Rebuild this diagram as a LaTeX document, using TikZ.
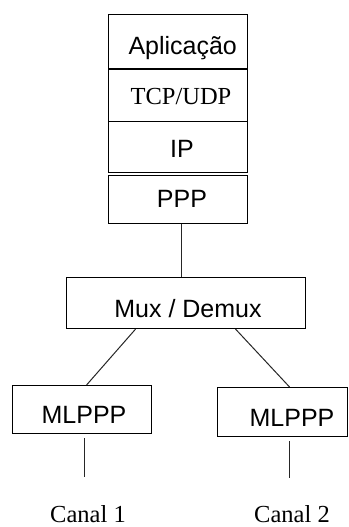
\documentclass[tikz,border=0pt]{standalone}
\usepackage{fontspec}
\setmainfont{Liberation Serif}
\newfontfamily\arialfont{Liberation Sans}
\begin{document}
\begin{tikzpicture}[x=1pt,y=-1pt,
  box/.style={draw=black,line width=1.1pt,rectangle,inner sep=0pt,anchor=north west},
  sanslabel/.style={font=\arialfont\fontsize{25}{30}\selectfont,anchor=base,inner sep=0pt},
  seriflabel/.style={font=\fontsize{24.5}{30}\selectfont,anchor=base,inner sep=0pt},
  link/.style={line width=1pt,draw=black!85}]
\useasboundingbox (0,0) rectangle (348,527);

% protocol stack
\node[box,minimum width=139pt,minimum height=54pt] (app) at (108,14) {};
\node[box,minimum width=139pt,minimum height=53pt] (tcp) at (108,68) {};
\node[box,minimum width=139pt,minimum height=51pt] (ip)  at (108,121) {};
\node[box,minimum width=139pt,minimum height=48pt] (ppp) at (108,175) {};
\draw[line width=2pt] (app.south west) -- (app.south east);

\node[sanslabel]  (appt) at (182.7,55) {Aplicação};
\node[seriflabel] (tcpt) at (181,104) {TCP/UDP};
\node[sanslabel]  (ipt)  at (182,157) {IP};
\node[sanslabel]  (pppt) at (182,207) {PPP};

% multiplexer
\node[box,minimum width=239pt,minimum height=51pt] (mux) at (66,277) {};
\node[sanslabel] (muxt) at (188,317) {Mux / Demux};

% link endpoints
\node[box,minimum width=139pt,minimum height=48pt] (mlL) at (12,385) {};
\node[box,minimum width=130pt,minimum height=49pt] (mlR) at (217,387) {};
\node[sanslabel] (mlLt) at (84,423) {MLPPP};
\node[sanslabel] (mlRt) at (292,426) {MLPPP};

% channels
\coordinate (c1top) at (84,438);
\coordinate (c1bot) at (84,477);
\coordinate (c2top) at (289,441);
\coordinate (c2bot) at (289,478);
\node[seriflabel] (canal1) at (88,522) {Canal 1};
\node[seriflabel] (canal2) at (292,522.5) {Canal 2};

% connectors
\draw[link] ([xshift=3.5pt]ppp.south) -- ([xshift=3.5pt]ppp.south |- mux.north);
\draw[link] ([xshift=-50.5pt]mux.south) -- ([xshift=4.5pt]mlL.north);
\draw[link] ([xshift=49.5pt]mux.south) -- ([xshift=7pt]mlR.north);
\draw[link] (c1top) -- (c1bot);
\draw[link] (c2top) -- (c2bot);
\end{tikzpicture}
\end{document}
